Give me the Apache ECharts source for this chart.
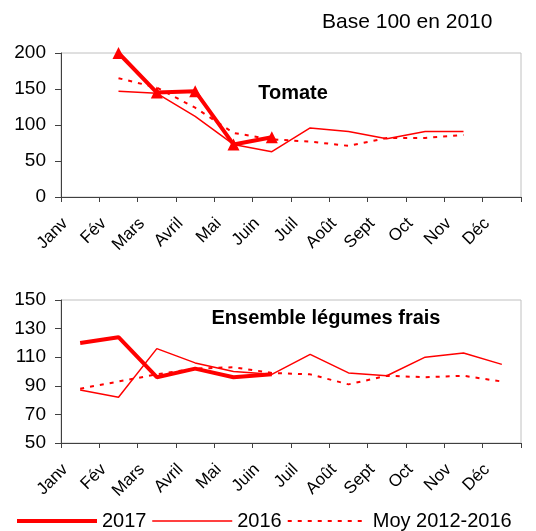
<!DOCTYPE html>
<html lang="fr">
<head>
    <meta charset="UTF-8">
    <title>Tomate - Ensemble légumes frais</title>
    <script src="https://cdn.jsdelivr.net/npm/echarts@6.0.0/dist/echarts.min.js"></script>
    <style>
        html, body { margin: 0; padding: 0; background: #fff; }
    </style>
</head>
<body>
    <div id="chart" style="width: 536px; height: 531px;"></div>

    <script>
        var chart = echarts.init(document.getElementById('chart'));

        var mois = ['Janv', 'Fév', 'Mars', 'Avril', 'Mai', 'Juin', 'Juil', 'Août', 'Sept', 'Oct', 'Nov', 'Déc'];

        // Tomate (base 100 en 2010)
        var tomate2017 = [null, 200, 145, 147, 73, 83, null, null, null, null, null, null];
        var tomate2016 = [null, 147, 144, 112, 73, 63, 96, 91, 81, 91, 91, null];
        var tomateMoy = [null, 165, 152, 124, 89, 80, 77, 71, 82, 82, 86, null];

        // Ensemble légumes frais
        var legumes2017 = [120, 124, 96, 102, 96, 98, null, null, null, null, null, null];
        var legumes2016 = [87, 82, 116, 106, 100, 98, 112, 99, 97, 110, 113, 105];
        var legumesMoy = [88, 93, 98, 102, 103, 99, 98, 91, 97, 96, 97, 93];

        var rouge = '#ff0000';
        var police = 'Liberation Sans, Arial, sans-serif';
        var pointilles = [4, 6];

        function axeX(idx) {
            return {
                type: 'category',
                gridIndex: idx,
                data: mois,
                boundaryGap: true,
                axisLine: { lineStyle: { color: '#404040', width: 1 } },
                axisTick: { show: true, interval: 0, length: 5, lineStyle: { color: '#404040' } },
                axisLabel: {
                    interval: 0,
                    rotate: 45,
                    margin: 9,
                    padding: [0, 21, 0, 0],
                    color: '#000',
                    fontSize: 17,
                    fontFamily: police
                },
                splitLine: { show: false }
            };
        }

        function axeY(idx, min, max, pas) {
            return {
                type: 'value',
                gridIndex: idx,
                min: min,
                max: max,
                interval: pas,
                axisLine: { show: true, lineStyle: { color: '#404040', width: 1 } },
                axisTick: { show: true, length: 6, lineStyle: { color: '#404040' } },
                axisLabel: { color: '#000', fontSize: 19, fontFamily: police, margin: 15 },
                splitLine: { show: false }
            };
        }

        function serie(nom, idx, donnees, style) {
            var s = {
                name: nom,
                type: 'line',
                xAxisIndex: idx,
                yAxisIndex: idx,
                data: donnees,
                connectNulls: false,
                symbol: 'none',
                lineStyle: { color: rouge, width: style.width, type: style.type || 'solid' },
                itemStyle: { color: rouge },
                z: style.z || 2
            };
            if (style.symbol) {
                s.symbol = style.symbol;
                s.symbolSize = style.symbolSize;
                s.showSymbol = true;
            }
            return s;
        }

        chart.setOption({
            animation: false,
            textStyle: { fontFamily: police },
            grid: [
                { left: 61, right: 15, top: 53, height: 144, show: true, borderColor: '#c0c0c0', borderWidth: 1, containLabel: false },
                { left: 61, right: 15, top: 300, height: 143, show: true, borderColor: '#c0c0c0', borderWidth: 1, containLabel: false }
            ],
            xAxis: [axeX(0), axeX(1)],
            yAxis: [axeY(0, 0, 200, 50), axeY(1, 50, 150, 20)],
            legend: {
                left: 10,
                top: 506,
                itemWidth: 80,
                itemHeight: 10,
                itemGap: 5,
                data: [
                    { name: '2017', lineStyle: { width: 4, color: rouge } },
                    { name: '2016', lineStyle: { width: 1.5, color: rouge } },
                    { name: 'Moy 2012-2016', lineStyle: { width: 2, color: rouge, type: pointilles } }
                ],
                itemStyle: { opacity: 0 },
                textStyle: { color: '#000', fontSize: 20, fontFamily: police }
            },
            graphic: [
                {
                    type: 'text',
                    left: 322,
                    top: 12,
                    style: { text: 'Base 100 en 2010', fill: '#000', font: '21px ' + police }
                },
                {
                    type: 'text',
                    x: 293,
                    y: 93,
                    style: { text: 'Tomate', fill: '#000', font: 'bold 20px ' + police, align: 'center', verticalAlign: 'middle' }
                },
                {
                    type: 'text',
                    x: 326,
                    y: 318,
                    style: { text: 'Ensemble légumes frais', fill: '#000', font: 'bold 20px ' + police, align: 'center', verticalAlign: 'middle' }
                }
            ],
            series: [
                serie('2017', 0, tomate2017, { width: 4, symbol: 'triangle', symbolSize: 12, z: 4 }),
                serie('2016', 0, tomate2016, { width: 1.5 }),
                serie('Moy 2012-2016', 0, tomateMoy, { width: 2, type: pointilles }),
                serie('2017', 1, legumes2017, { width: 4, z: 4 }),
                serie('2016', 1, legumes2016, { width: 1.5 }),
                serie('Moy 2012-2016', 1, legumesMoy, { width: 2, type: pointilles })
            ]
        });
    </script>
</body>
</html>
